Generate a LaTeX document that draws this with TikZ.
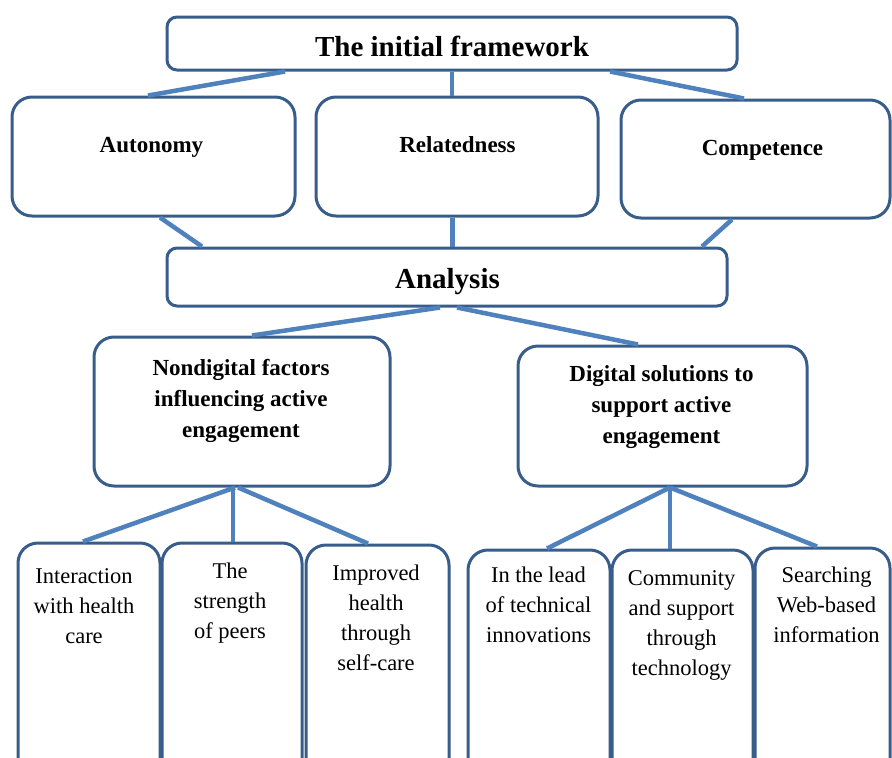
\documentclass[tikz,border=0pt]{standalone}
\usepackage{fontspec}
\setmainfont{Liberation Serif}
\definecolor{wwqqbb}{rgb}{0.2196,0.3647,0.5412}
\definecolor{ttzzqq}{rgb}{0.3098,0.5059,0.7412}

\begin{document}
\begin{tikzpicture}[line cap=butt,line join=round,x=1pt,y=-1pt,
  box/.style={draw=wwqqbb,line width=3pt,rounded corners=20pt,inner sep=0pt,fill=white},
  barbox/.style={box,rounded corners=10pt},
  link/.style={draw=ttzzqq,line width=4.5pt},
  headtext/.style={font=\fontsize{29}{35}\selectfont\bfseries,anchor=base,inner sep=0pt},
  midtext/.style={font=\fontsize{23}{31}\selectfont\bfseries,align=center,anchor=base,inner sep=0pt},
  leaftext/.style={font=\fontsize{22.5}{30}\selectfont,align=center,anchor=base,inner sep=0pt}]
\useasboundingbox (0,0) rectangle (892,758);
\clip (0,0) rectangle (892,758);
% boxes
\node[barbox,minimum width=570pt,minimum height=53pt] (top) at (452,43.5) {};
\node[box,minimum width=283pt,minimum height=119pt] (aut) at (153.5,156.5) {};
\node[box,minimum width=282pt,minimum height=119pt] (rel) at (457,156.5) {};
\node[box,minimum width=269pt,minimum height=118pt] (com) at (755.5,159) {};
\node[barbox,minimum width=560pt,minimum height=58pt] (ana) at (447,277) {};
\node[box,minimum width=296pt,minimum height=149pt] (non) at (242,411.5) {};
\node[box,minimum width=289pt,minimum height=140pt] (dig) at (662.5,416) {};
\node[box,minimum width=142pt,minimum height=260pt] (hcare) at (89,673) {};
\node[box,minimum width=140pt,minimum height=260pt] (peers) at (232,673) {};
\node[box,minimum width=143pt,minimum height=260pt] (selfc) at (377.5,675) {};
\node[box,minimum width=142pt,minimum height=260pt] (innov) at (539,680) {};
\node[box,minimum width=141pt,minimum height=260pt] (commu) at (682.5,680) {};
\node[box,minimum width=135pt,minimum height=260pt] (websr) at (822.5,678) {};
% texts (base = last line)
\node[headtext] (topT) at (452,56) {The initial framework};
\node[midtext] (autT) at (151.5,152) {Autonomy};
\node[midtext] (relT) at (457.5,152) {Relatedness};
\node[midtext] (comT) at (762.5,155) {Competence};
\node[headtext] (anaT) at (447.5,288) {Analysis};
\node[midtext] (nonT) at (241,437) {Nondigital factors\\influencing active\\engagement};
\node[midtext] (digT) at (661.5,443) {Digital solutions to\\support active\\engagement};
\node[leaftext] (hcareT) at (84,643) {Interaction\\with health\\care};
\node[leaftext] (peersT) at (230,638) {The\\strength\\of peers};
\node[leaftext] (selfcT) at (376,670) {Improved\\health\\through\\self-care};
\node[leaftext] (innovT) at (538.5,642) {In the lead\\of technical\\innovations};
\node[leaftext] (commuT) at (681.5,675) {Community\\and support\\through\\technology};
\node[leaftext] (websrT) at (826.5,642) {Searching\\Web-based\\information};
% connectors
\draw[link] ([xshift=-167pt]top.south) -- ([xshift=-5.5pt]aut.north);
\draw[link] (top.south) -- (top.south |- rel.north);
\draw[link] ([xshift=158pt]top.south) -- ([xshift=-11.5pt]com.north);
\draw[link] ([xshift=6.5pt]aut.south) -- ([xshift=-245pt]ana.north);
\draw[link] ([xshift=-4.5pt]rel.south) -- ([xshift=-4.5pt]rel.south |- ana.north);
\draw[link] ([xshift=-23.5pt]com.south) -- ([xshift=255pt]ana.north);
\draw[link] ([xshift=-7pt]ana.south) -- ([xshift=10pt]non.north);
\draw[link] ([xshift=10pt]ana.south) -- ([xshift=-24.5pt]dig.north);
\draw[link] ([xshift=-7pt]non.south) -- ([xshift=-6pt]hcare.north);
\draw[link] ([xshift=-9pt]non.south) -- ([xshift=-9pt]non.south |- peers.north);
\draw[link] ([xshift=-4pt]non.south) -- ([xshift=-9.5pt]selfc.north);
\draw[link] ([xshift=7.5pt]dig.south) -- ([xshift=8pt]innov.north);
\draw[link] ([xshift=7.5pt]dig.south) -- ([xshift=7.5pt]dig.south |- commu.north);
\draw[link] ([xshift=7.5pt]dig.south) -- ([xshift=-5.5pt]websr.north);
\end{tikzpicture}
\end{document}
